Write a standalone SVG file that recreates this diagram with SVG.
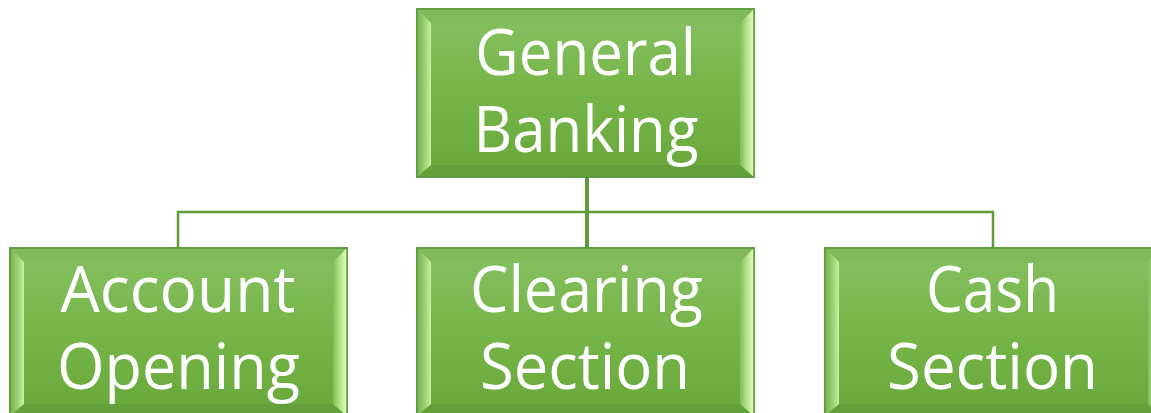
<svg xmlns="http://www.w3.org/2000/svg" xmlns:xlink="http://www.w3.org/1999/xlink" width="1151" height="413" viewBox="0 0 1151 413">
<style>
.face{fill:url(#faceGrad);stroke:#5a9638;stroke-width:1.5}
.lbl{font-family:"Open Sans","Liberation Sans",sans-serif;font-size:64px;fill:#ffffff;text-anchor:middle}
.conn{stroke:#5e9c3a;fill:none}
</style>
<defs>
<linearGradient id="faceGrad" x1="0" y1="0" x2="0" y2="1">
<stop offset="0" stop-color="#86c062"/>
<stop offset="0.5" stop-color="#76b548"/>
<stop offset="1" stop-color="#68a83a"/>
</linearGradient>
<linearGradient id="leftGrad" x1="0" y1="0" x2="1" y2="0">
<stop offset="0" stop-color="#76b24e"/>
<stop offset="0.6" stop-color="#9fd478"/>
<stop offset="1" stop-color="#c8f2a2"/>
</linearGradient>
<linearGradient id="rightGrad" x1="0" y1="0" x2="1" y2="0">
<stop offset="0" stop-color="#82bc5a"/>
<stop offset="0.5" stop-color="#b2e38a"/>
<stop offset="1" stop-color="#e4ffc6"/>
</linearGradient>
<g id="bevel">
<polygon points="0,0 337,0 323,14 14,14" fill="#80ba5a"/>
<polygon points="0,168 337,168 323,156 14,156" fill="#63a03a"/>
<polygon points="0,0 14,14 14,156 0,168" fill="url(#leftGrad)"/>
<polygon points="337,0 323,14 323,156 337,168" fill="url(#rightGrad)"/>
</g>
</defs>
<g id="connectors">
<line class="conn" x1="587" y1="177" x2="587" y2="248" stroke-width="4"/>
<polyline class="conn" points="178,248 178,212 993,212 993,248" stroke-width="2.5"/>
</g>
<g id="node-general-banking">
<rect class="face" x="417" y="9" width="337" height="168"/>
<use xlink:href="#bevel" transform="translate(417,9)"/>
<rect x="417" y="9" width="337" height="168" fill="none" stroke="#5a9638" stroke-width="1.5"/>
<text class="lbl" x="585.5" y="75" textLength="221" lengthAdjust="spacingAndGlyphs">General</text>
<text class="lbl" x="586" y="152" textLength="225" lengthAdjust="spacingAndGlyphs">Banking</text>
</g>
<g id="node-account-opening">
<rect class="face" x="10" y="248" width="337" height="168"/>
<use xlink:href="#bevel" transform="translate(10,248)"/>
<rect x="10" y="248" width="337" height="168" fill="none" stroke="#5a9638" stroke-width="1.5"/>
<text class="lbl" x="178" y="312" textLength="235" lengthAdjust="spacingAndGlyphs">Account</text>
<text class="lbl" x="178.5" y="389" textLength="243" lengthAdjust="spacingAndGlyphs">Opening</text>
</g>
<g id="node-clearing-section">
<rect class="face" x="417" y="248" width="337" height="168"/>
<use xlink:href="#bevel" transform="translate(417,248)"/>
<rect x="417" y="248" width="337" height="168" fill="none" stroke="#5a9638" stroke-width="1.5"/>
<text class="lbl" x="586.5" y="312" textLength="233" lengthAdjust="spacingAndGlyphs">Clearing</text>
<text class="lbl" x="585" y="389" textLength="210" lengthAdjust="spacingAndGlyphs">Section</text>
</g>
<g id="node-cash-section">
<rect class="face" x="825" y="248" width="337" height="168"/>
<use xlink:href="#bevel" transform="translate(825,248)"/>
<rect x="825" y="248" width="337" height="168" fill="none" stroke="#5a9638" stroke-width="1.5"/>
<text class="lbl" x="992.5" y="312" textLength="133" lengthAdjust="spacingAndGlyphs">Cash</text>
<text class="lbl" x="992.5" y="389" textLength="211" lengthAdjust="spacingAndGlyphs">Section</text>
</g>
</svg>
